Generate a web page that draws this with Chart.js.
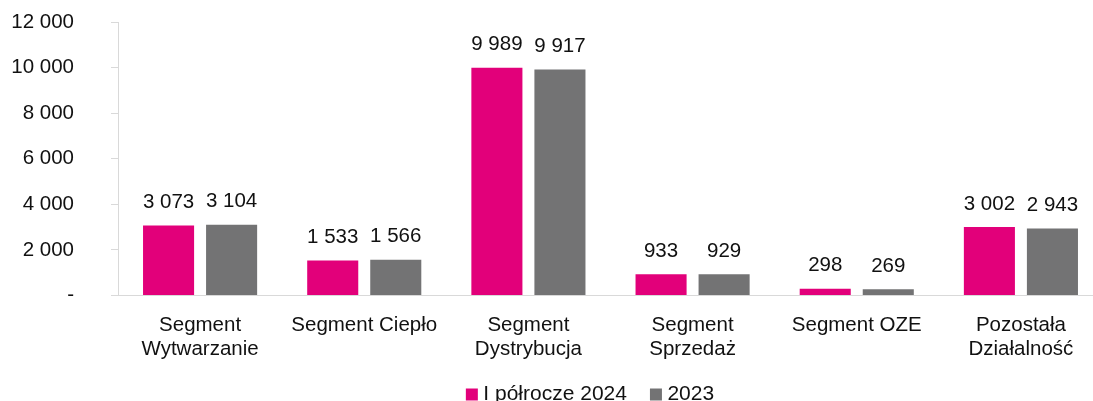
<!DOCTYPE html>
<html>
<head>
<meta charset="utf-8">
<script src="https://cdn.jsdelivr.net/npm/chart.js@4.4.0/dist/chart.umd.min.js"></script>
<style>
  html, body { margin: 0; padding: 0; background: #fff; overflow: hidden; }
  #wrap { width: 1093px; height: 401px; overflow: hidden; }
</style>
</head>
<body>
<div id="wrap"><canvas id="chart" width="1103" height="401"></canvas></div>
<script>
// Przychody segmentów (mln zł)
const categories = [
  ['Segment', 'Wytwarzanie'],
  'Segment Ciepło',
  ['Segment', 'Dystrybucja'],
  ['Segment', 'Sprzedaż'],
  'Segment OZE',
  ['Pozostała', 'Działalność']
];
const seriesNames = ['I półrocze 2024', '2023'];
const values2024 = [3073, 1533, 9989, 933, 298, 3002];
const values2023 = [3104, 1566, 9917, 929, 269, 2943];
const yTicks = [0, 2000, 4000, 6000, 8000, 10000, 12000];

const PINK = '#e2007a';
const GREY = '#737374';
const FONT = 'Liberation Sans, Arial, sans-serif';
const FS = 20.5;

// liczby z odstępem jako separatorem tysięcy
const fmt = v => v === 0 ? '-' : String(v).replace(/\B(?=(\d{3})+(?!\d))/g, ' ');

// etykiety wartości nad słupkami
const valueLabels = {
  id: 'valueLabels',
  afterDatasetsDraw(chart) {
    const ctx = chart.ctx;
    ctx.save();
    ctx.font = FS + 'px ' + FONT;
    ctx.fillStyle = '#111';
    ctx.textAlign = 'center';
    ctx.textBaseline = 'middle';
    chart.data.datasets.forEach((ds, i) => {
      chart.getDatasetMeta(i).data.forEach((bar, j) => {
        ctx.fillText(fmt(ds.data[j]), bar.x, bar.y - 23);
      });
    });
    ctx.restore();
  }
};

// legenda: nieco w prawo i bliżej dolnej krawędzi
const legendShift = {
  id: 'legendShift',
  afterLayout(chart) {
    const lg = chart.legend;
    const h = lg.height;
    lg.left += 41;
    lg.right += 41;
    lg.top = chart.chartArea.bottom + 60.5;
    lg.bottom = lg.top + h;
  }
};

new Chart(document.getElementById('chart'), {
  type: 'bar',
  data: {
    labels: categories,
    datasets: [
      { label: seriesNames[0], data: values2024, backgroundColor: PINK },
      { label: seriesNames[1], data: values2023, backgroundColor: GREY }
    ]
  },
  options: {
    responsive: false,
    animation: false,
    categoryPercentage: 0.768,
    barPercentage: 0.81,
    layout: { padding: { top: 22, left: 0, right: 0, bottom: -20.5 } },
    plugins: {
      legend: {
        position: 'bottom',
        labels: {
          font: { size: 21, family: FONT },
          color: '#111',
          usePointStyle: true,
          pointStyle: 'rect',
          boxWidth: 2,
          boxHeight: 12,
          padding: 28
        }
      },
      tooltip: { enabled: false }
    },
    scales: {
      x: {
        afterFit: axis => { axis.height = 67; },
        grid: { display: false, drawTicks: false },
        border: { color: '#d9d9d9', width: 1 },
        ticks: {
          font: { size: FS, family: FONT, lineHeight: 1.14 },
          color: '#111',
          padding: 18.5,
          maxRotation: 0,
          autoSkip: false
        }
      },
      y: {
        min: 0,
        max: 12000,
        afterBuildTicks: axis => { axis.ticks = yTicks.map(v => ({ value: v })); },
        afterFit: axis => {
          axis.width = 118;
          // duży odstęp etykiet nie powinien zmniejszać obszaru wykresu
          axis.paddingTop = 12;
          axis.paddingBottom = 12;
        },
        grid: {
          display: true,
          drawOnChartArea: false,
          drawTicks: true,
          tickLength: 7,
          color: '#d9d9d9'
        },
        border: { color: '#d9d9d9', width: 1 },
        ticks: {
          font: { size: FS, family: FONT },
          color: '#111',
          padding: 37,
          callback: v => fmt(v)
        }
      }
    }
  },
  plugins: [valueLabels, legendShift]
});
</script>
</body>
</html>
